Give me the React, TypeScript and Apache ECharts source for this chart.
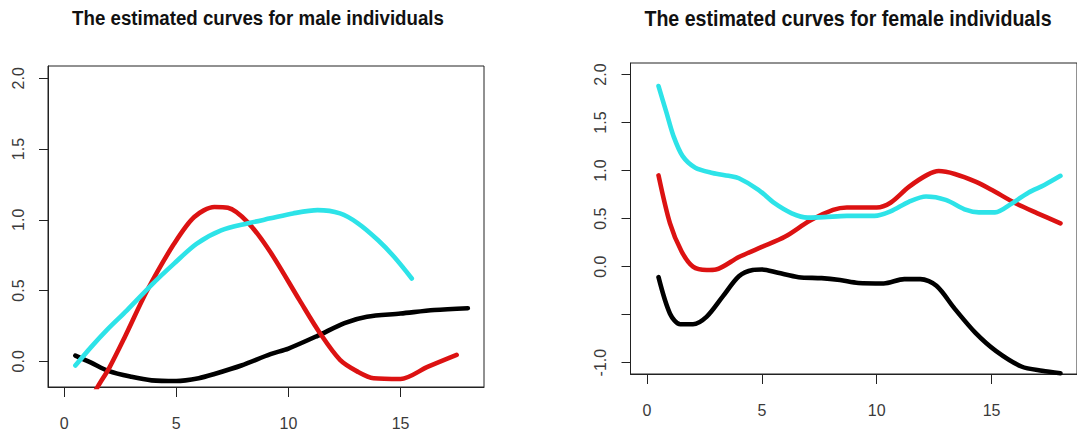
import React, { useEffect, useRef } from "react";
import * as echarts from "echarts";

// ---------- data ----------
const X_TICKS = [0, 5, 10, 15];
const MALE_Y_TICKS = [0, 0.5, 1, 1.5, 2];
const FEMALE_Y_TICKS = [-1, -0.5, 0, 0.5, 1, 1.5, 2];
const FEMALE_Y_LABELS = [-1, 0, 0.5, 1, 1.5, 2];

const maleBlackX = [0.5, 1.2, 2.0, 3.0, 3.9, 5.0, 6.0, 6.7, 7.9, 9.2, 10.0, 11.3, 12.5, 13.5, 15.0, 16.5, 18.0];
const maleBlackY = [0.04, -0.01, -0.07, -0.11, -0.135, -0.14, -0.12, -0.09, -0.03, 0.05, 0.09, 0.18, 0.27, 0.315, 0.337, 0.362, 0.375];

const maleRedX = [0.5, 1.5, 2.0, 2.7, 3.7, 4.9, 5.8, 6.7, 7.3, 8.2, 9.2, 10.5, 11.4, 12.3, 13.1, 13.8, 15.0, 16.2, 17.5];
const maleRedY = [-0.48, -0.18, -0.05, 0.17, 0.5, 0.83, 1.02, 1.09, 1.085, 0.98, 0.77, 0.43, 0.2, 0.01, -0.075, -0.12, -0.125, -0.04, 0.045];

const maleCyanX = [0.5, 1.2, 1.9, 2.8, 3.9, 4.9, 5.9, 7.0, 8.2, 9.2, 10.2, 11.3, 12.3, 13.1, 14.0, 14.7, 15.5];
const maleCyanY = [-0.03, 0.1, 0.22, 0.36, 0.54, 0.69, 0.83, 0.925, 0.975, 1.01, 1.045, 1.068, 1.045, 0.975, 0.855, 0.74, 0.585];

const femaleBlackX = [0.5, 1.0, 1.45, 2.0, 2.6, 3.3, 4.0, 4.6, 5.0, 5.7, 6.6, 7.6, 8.4, 9.2, 10.3, 11.2, 11.9, 12.6, 13.4, 14.3, 15.2, 16.3, 17.2, 18.0];
const femaleBlackY = [-0.11, -0.49, -0.6, -0.6, -0.52, -0.31, -0.1, -0.035, -0.03, -0.065, -0.11, -0.12, -0.14, -0.17, -0.175, -0.13, -0.13, -0.2, -0.44, -0.69, -0.88, -1.04, -1.085, -1.11];

const femaleRedX = [0.5, 1.0, 1.5, 2.0, 2.6, 3.0, 4.0, 5.0, 6.0, 7.1, 8.1, 8.7, 10.0, 10.6, 11.4, 12.2, 12.7, 13.4, 14.3, 15.0, 16.0, 17.0, 18.0];
const femaleRedY = [0.95, 0.45, 0.16, 0.0, -0.035, -0.03, 0.1, 0.205, 0.31, 0.48, 0.59, 0.615, 0.615, 0.665, 0.83, 0.955, 0.995, 0.965, 0.885, 0.8, 0.665, 0.555, 0.45];

const femaleCyanX = [0.5, 0.85, 1.15, 1.55, 2.1, 2.85, 3.55, 4.0, 4.85, 5.55, 6.3, 7.0, 7.7, 8.7, 9.9, 10.6, 11.4, 12.15, 13.0, 13.9, 14.45, 15.15, 15.9, 16.6, 17.3, 18.0];
const femaleCyanY = [1.88, 1.6, 1.36, 1.15, 1.03, 0.975, 0.945, 0.92, 0.8, 0.66, 0.555, 0.51, 0.515, 0.528, 0.528, 0.575, 0.675, 0.73, 0.695, 0.59, 0.565, 0.565, 0.66, 0.77, 0.85, 0.945];

const TITLE_MALE = "The estimated curves for male individuals";
const TITLE_FEMALE = "The estimated curves for female individuals";

// ---------- styling ----------
const FONT = "'Liberation Sans', Arial, sans-serif";
const RED = "#dc1212";
const CYAN = "#2de3e8";
const BLACK = "#000000";
const AXIS_COLOR = "#222";
const LABEL_COLOR = "#3a3a3a";

const zip = (xs: number[], ys: number[]) => xs.map((x, i) => [x, ys[i]]);

function lineSeries(idx: number, xs: number[], ys: number[], color: string) {
  return {
    type: "line",
    xAxisIndex: idx,
    yAxisIndex: idx,
    data: zip(xs, ys),
    showSymbol: false,
    smooth: 0.3,
    clip: true,
    lineStyle: { color, width: 4.6, cap: "round", join: "round" },
    z: 3,
  };
}

function xAxis(idx: number) {
  return {
    type: "value",
    gridIndex: idx,
    min: -0.72,
    max: 18.72,
    position: "bottom",
    splitLine: { show: false },
    axisLine: { show: true, onZero: false, lineStyle: { color: AXIS_COLOR, width: 1 } },
    axisTick: { show: true, length: 10, customValues: X_TICKS, lineStyle: { color: AXIS_COLOR, width: 1 } },
    axisLabel: {
      customValues: X_TICKS,
      fontSize: 16,
      fontFamily: FONT,
      color: LABEL_COLOR,
      margin: 28,
      formatter: (v: number) => String(v),
    },
  };
}

function yAxis(idx: number, min: number, max: number, ticks: number[], labels: number[]) {
  return {
    type: "value",
    gridIndex: idx,
    min,
    max,
    position: "left",
    splitLine: { show: false },
    axisLine: { show: true, onZero: false, lineStyle: { color: AXIS_COLOR, width: 1 } },
    axisTick: { show: true, length: 9, customValues: ticks, lineStyle: { color: AXIS_COLOR, width: 1 } },
    axisLabel: {
      customValues: labels,
      rotate: 90,
      fontSize: 16,
      fontFamily: FONT,
      color: LABEL_COLOR,
      margin: 22,
      formatter: (v: number) => v.toFixed(1),
    },
  };
}

export default function App() {
  const ref = useRef<HTMLDivElement>(null);

  useEffect(() => {
    if (!ref.current) return;
    const chart = echarts.init(ref.current, undefined, { renderer: "svg" });
    chart.setOption({
      animation: false,
      backgroundColor: "#ffffff",
      grid: [
        { left: 48, top: 66, width: 436, height: 321, show: true, borderColor: AXIS_COLOR, borderWidth: 1, containLabel: false },
        { left: 630.5, top: 63, width: 452, height: 311, show: true, borderColor: AXIS_COLOR, borderWidth: 1, containLabel: false },
      ],
      xAxis: [xAxis(0), xAxis(1)],
      yAxis: [
        yAxis(0, -0.182, 2.087, MALE_Y_TICKS, MALE_Y_TICKS),
        yAxis(1, -1.118, 2.12, FEMALE_Y_TICKS, FEMALE_Y_LABELS),
      ],
      graphic: [
        {
          type: "text",
          x: 258,
          y: 18,
          scaleY: 1.12,
          style: {
            text: TITLE_MALE,
            fontSize: 18.7,
            fontWeight: "bold",
            fontFamily: FONT,
            fill: "#111",
            align: "center",
            verticalAlign: "middle",
          },
        },
        {
          type: "text",
          x: 848,
          y: 18,
          scaleY: 1.12,
          style: {
            text: TITLE_FEMALE,
            fontSize: 19.6,
            fontWeight: "bold",
            fontFamily: FONT,
            fill: "#111",
            align: "center",
            verticalAlign: "middle",
          },
        },
      ],
      series: [
        lineSeries(0, maleBlackX, maleBlackY, BLACK),
        lineSeries(0, maleRedX, maleRedY, RED),
        lineSeries(0, maleCyanX, maleCyanY, CYAN),
        lineSeries(1, femaleBlackX, femaleBlackY, BLACK),
        lineSeries(1, femaleRedX, femaleRedY, RED),
        lineSeries(1, femaleCyanX, femaleCyanY, CYAN),
      ],
    });
    return () => chart.dispose();
  }, []);

  return (
    <div
      ref={ref}
      style={{ position: "fixed", left: 0, top: 0, width: 1077, height: 437, background: "#fff" }}
    />
  );
}
